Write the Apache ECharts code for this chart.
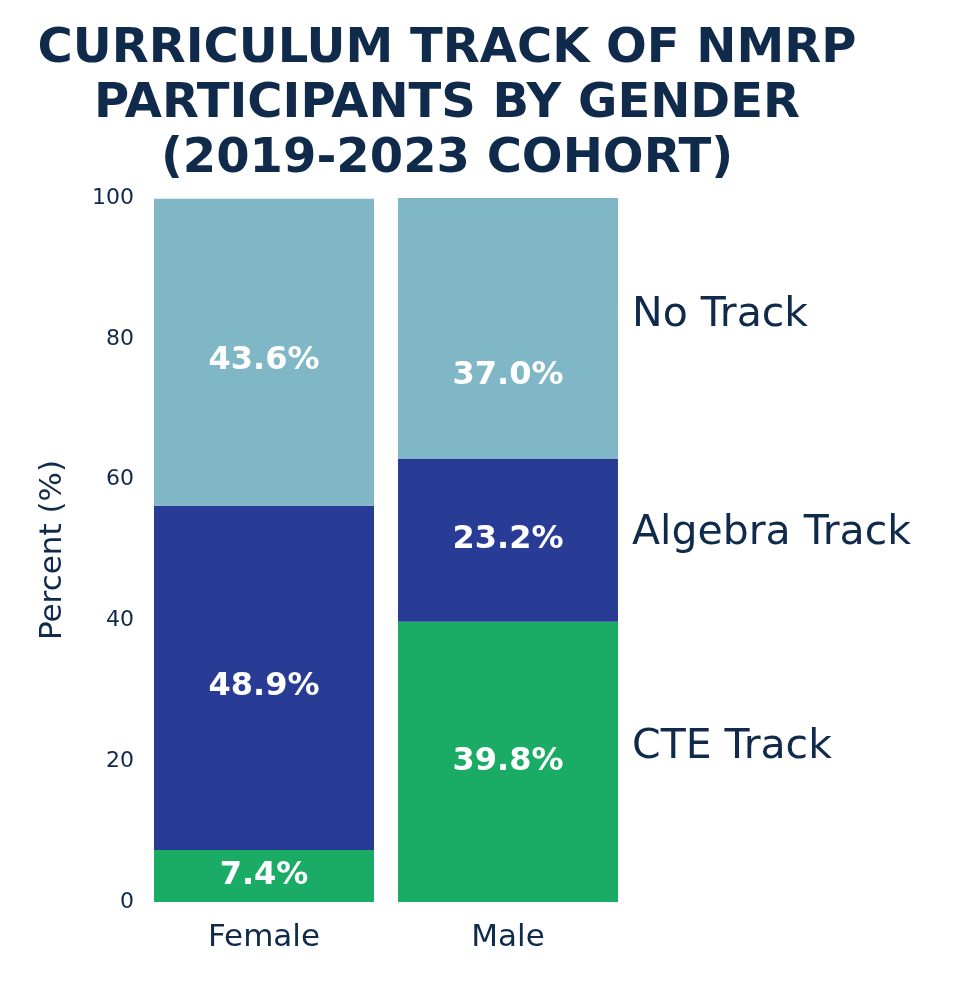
<!DOCTYPE html>
<html>
<head>
<meta charset="utf-8">
<script src="https://cdn.jsdelivr.net/npm/echarts@6/dist/echarts.min.js"></script>
<style>
  html, body { margin: 0; padding: 0; background: #fff; }
  #chart { width: 969px; height: 1004px; }
</style>
</head>
<body>
<div id="chart"></div>
<script>
// data
var genders = ['Female', 'Male'];
var tracks = ['CTE Track', 'Algebra Track', 'No Track'];
var cteTrack = [7.4, 39.8];
var algebraTrack = [48.9, 23.2];
var noTrack = [43.6, 37.0];
var yTicks = [0, 20, 40, 60, 80, 100];

var navy = '#0f2a4a';
var colors = ['#1aac64', '#283c96', '#80b7c7'];
var font = 'DejaVu Sans';

let myChart = echarts.init(document.getElementById('chart'));

function makeSeries (name, values, color, idx) {
  return {
    name: name,
    type: 'bar',
    stack: 'total',
    barWidth: 220,
    itemStyle: { color: color },
    label: {
      show: true,
      position: 'inside',
      color: '#fff',
      fontFamily: font,
      fontWeight: 'bold',
      fontSize: 32,
      formatter: function (p) { return p.value.toFixed(1) + '%'; }
    },
    data: values.map(function (v, i) {
      // the male "No Track" label sits lower than the segment centre
      if (idx === 2 && i === 1) {
        return { value: v, label: { offset: [0, 47] } };
      }
      if (i === 0 && idx > 0) {
        return { value: v, label: { offset: [0, 9] } };
      }
      return v;
    })
  };
}

myChart.setOption({
  animation: false,
  title: {
    text: 'CURRICULUM TRACK OF NMRP\nPARTICIPANTS BY GENDER\n(2019-2023 COHORT)',
    left: 442,
    top: 17,
    textAlign: 'center',
    textStyle: {
      color: navy,
      fontFamily: font,
      fontWeight: 'bold',
      fontSize: 48,
      lineHeight: 55
    }
  },
  grid: {
    left: 142,
    right: 339,
    top: 198,
    bottom: 102
  },
  xAxis: {
    type: 'category',
    data: genders,
    axisLine: { show: false },
    axisTick: { show: false },
    axisLabel: {
      color: navy,
      fontFamily: font,
      fontSize: 31,
      margin: 20
    }
  },
  yAxis: {
    type: 'value',
    min: 0,
    max: 100,
    interval: 20,
    name: 'Percent (%)',
    nameLocation: 'middle',
    nameGap: 74,
    nameTextStyle: {
      color: navy,
      fontFamily: font,
      fontSize: 31
    },
    axisLine: { show: false },
    axisTick: { show: false },
    splitLine: { show: false },
    axisLabel: {
      color: navy,
      fontFamily: font,
      fontSize: 22,
      margin: 8,
      formatter: function (v) { return yTicks.indexOf(v) >= 0 ? String(v) : ''; }
    }
  },
  series: [
    makeSeries(tracks[0], cteTrack, colors[0], 0),
    makeSeries(tracks[1], algebraTrack, colors[1], 1),
    makeSeries(tracks[2], noTrack, colors[2], 2)
  ],
  graphic: [
    { type: 'text', x: 632, y: 315, style: { text: tracks[2], fill: navy, font: '41px "DejaVu Sans"', verticalAlign: 'middle' } },
    { type: 'text', x: 632, y: 533, style: { text: tracks[1], fill: navy, font: '41px "DejaVu Sans"', verticalAlign: 'middle' } },
    { type: 'text', x: 632, y: 747, style: { text: tracks[0], fill: navy, font: '41px "DejaVu Sans"', verticalAlign: 'middle' } }
  ]
});
</script>
</body>
</html>
